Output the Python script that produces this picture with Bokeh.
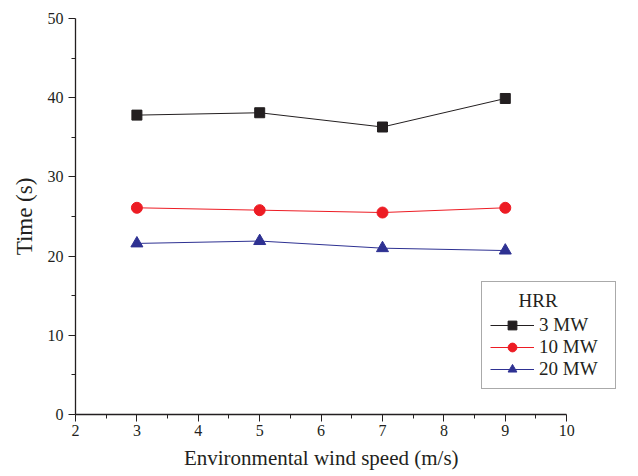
from bokeh.plotting import figure
from bokeh.models import Legend, LegendItem, Range1d, FixedTicker
from bokeh.embed import file_html
from bokeh.resources import INLINE

wind_speed = [3, 5, 7, 9]
hrr_3mw = [37.8, 38.1, 36.3, 39.9]
hrr_10mw = [26.1, 25.8, 25.5, 26.1]
hrr_20mw = [21.6, 21.9, 21.0, 20.7]
x_ticks = [2, 3, 4, 5, 6, 7, 8, 9, 10]
y_ticks = [0, 10, 20, 30, 40, 50]

FONT = "Liberation Serif"
INK = "#231f20"

# frame is extended to the right so the legend (which overhangs x=10) is not clipped;
# the visible axis is bounded to 2..10
p = figure(width=630, height=475, output_backend="svg", toolbar_location=None,
           x_range=Range1d(2, 10.86), y_range=Range1d(0, 50),
           min_border_left=75, min_border_top=18, min_border_bottom=61, min_border_right=11)
p.outline_line_color = None
p.grid.visible = False
p.background_fill_color = "white"

c1, c2, c3 = "#231f20", "#ed1c24", "#2e3192"
l1 = p.line(wind_speed, hrr_3mw, line_color=c1, line_width=1)
m1 = p.scatter(wind_speed, hrr_3mw, marker="square", size=10, fill_color=c1, line_color=c1)
l2 = p.line(wind_speed, hrr_10mw, line_color=c2, line_width=1)
m2 = p.scatter(wind_speed, hrr_10mw, marker="circle", size=11, fill_color=c2, line_color=c2)
l3 = p.line(wind_speed, hrr_20mw, line_color=c3, line_width=1)
m3 = p.scatter(wind_speed, hrr_20mw, marker="triangle", size=12, fill_color=c3, line_color=c3)

for ax in (p.xaxis[0], p.yaxis[0]):
    ax.axis_line_color = INK
    ax.axis_line_width = 1.3
    ax.major_tick_line_color = INK
    ax.minor_tick_line_color = INK
    ax.major_tick_in = 0
    ax.major_tick_out = 7
    ax.minor_tick_in = 0
    ax.minor_tick_out = 4
    ax.major_label_text_font = FONT
    ax.major_label_text_font_size = "16px"
    ax.major_label_text_color = INK
    ax.axis_label_text_font = FONT
    ax.axis_label_text_font_style = "normal"
    ax.axis_label_text_color = INK

p.xaxis.axis_label_text_font_size = "21px"
p.yaxis.axis_label_text_font_size = "23px"
p.xaxis.bounds = (2, 10)
p.xaxis.ticker = FixedTicker(ticks=x_ticks, minor_ticks=[2.5 + i for i in range(8)])
p.yaxis.ticker = FixedTicker(ticks=y_ticks, minor_ticks=[5 + 10 * i for i in range(5)])
p.xaxis.axis_label = "Environmental wind speed (m/s)" + "\u00a0" * 10
p.yaxis.axis_label = "Time (s)"
p.xaxis.major_label_standoff = 3
p.xaxis.axis_label_standoff = 7
p.yaxis.major_label_standoff = 5
p.yaxis.axis_label_standoff = 8

legend = Legend(items=[
    LegendItem(label="3 MW", renderers=[l1, m1]),
    LegendItem(label="10 MW", renderers=[l2, m2]),
    LegendItem(label="20 MW", renderers=[l3, m3]),
], location=(406, 25))
legend.title = "\u00a0" * 6 + "HRR"
legend.title_text_font = FONT
legend.title_text_font_size = "19px"
legend.title_text_font_style = "normal"
legend.title_text_color = INK
legend.title_standoff = 2
legend.label_text_font = FONT
legend.label_text_font_size = "19px"
legend.label_text_color = INK
legend.glyph_width = 44
legend.glyph_height = 22
legend.label_height = 22
legend.label_standoff = 5
legend.label_width = 68
legend.spacing = 0
legend.padding = 8
legend.margin = 0
legend.border_line_color = "#555555"
legend.border_line_width = 1
legend.background_fill_alpha = 1
p.add_layout(legend, "center")

open("out.html", "w").write(file_html(p, INLINE))
